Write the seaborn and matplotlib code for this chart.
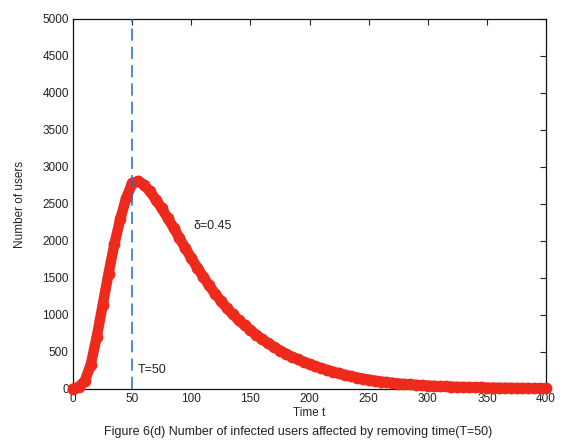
import matplotlib
matplotlib.use("Agg")
import matplotlib.pyplot as plt
import seaborn as sns
import pandas as pd

# Infected users over time (removal at T=50, delta=0.45)
time_t = list(range(0, 405, 5))
infected = [
    5, 30, 110, 330, 700, 1130, 1560, 1960, 2300, 2580,
    2780, 2810, 2760, 2670, 2560, 2440, 2310, 2180, 2040, 1900,
    1770, 1640, 1520, 1400, 1290, 1190, 1095, 1010, 930, 860,
    795, 730, 670, 615, 565, 520, 475, 435, 400, 365,
    335, 305, 280, 255, 232, 210, 190, 172, 155, 140,
    126, 113, 101, 91, 82, 74, 67, 61, 55, 50,
    45, 41, 37, 34, 31, 28, 26, 24, 22, 20,
    18, 17, 16, 15, 14, 13, 12, 11, 10, 10, 9,
]
removal_time = 50
x_ticks = [0, 50, 100, 150, 200, 250, 300, 350, 400]
y_ticks = [0, 500, 1000, 1500, 2000, 2500, 3000, 3500, 4000, 4500, 5000]

sns.set_style("white")
plt.rcParams["font.family"] = ["Liberation Sans", "DejaVu Sans"]

df = pd.DataFrame({"t": time_t, "users": infected})

fig = plt.figure(figsize=(5.63, 4.47), dpi=100)
ax = fig.add_axes([0.1297, 0.1298, 0.8403, 0.8277])

sns.lineplot(data=df, x="t", y="users", ax=ax, color="#ee2a1c",
             linewidth=7.5, marker="o", markersize=8.5, markeredgewidth=0,
             clip_on=False, zorder=3, solid_capstyle="round",
             solid_joinstyle="round")

ax.axvline(removal_time, color="#2468cc", linewidth=1.1,
           dashes=(8, 4), zorder=4)

ax.set_xlim(0, 400)
ax.set_ylim(0, 5000)
ax.set_xticks(x_ticks)
ax.set_yticks(y_ticks)
ax.tick_params(direction="in", length=4, width=0.8, top=True, right=True,
               labelsize=8.5, colors="#222222", pad=3)
for s in ax.spines.values():
    s.set_color("#111111")
    s.set_linewidth(0.9)
    s.set_visible(True)

ax.set_xlabel("Time t", fontsize=8.5, labelpad=1)
ax.set_ylabel("Number of users", fontsize=8.5, labelpad=12)

ax.text(55, 250, "T=50", fontsize=9, color="#222222", va="center")
ax.text(102, 2200, "δ=0.45", fontsize=9, color="#222222", va="center")

fig.text(0.53, 0.033, "Figure 6(d) Number of infected users affected by removing time(T=50)",
         ha="center", va="center", fontsize=9, color="#222222")

fig.savefig("out.png", dpi=100)
